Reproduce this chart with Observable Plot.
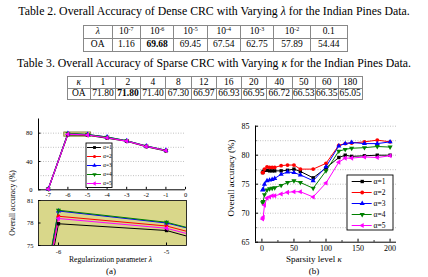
<!DOCTYPE html>
<html><head><meta charset="utf-8">
<script src="https://cdn.jsdelivr.net/npm/d3@7"></script>
<script src="https://cdn.jsdelivr.net/npm/@observablehq/plot@0.6"></script>
<style>
html,body{margin:0;padding:0;background:#fff;}
#root{position:relative;width:428px;height:277px;overflow:hidden;font-family:"Liberation Serif","Times New Roman",serif;color:#000;background:#fff;}
.box{position:absolute;}
.cap{position:absolute;left:0;width:428px;text-align:center;font-size:11.8px;white-space:nowrap;line-height:1;}
table.t{position:absolute;border-collapse:collapse;table-layout:fixed;}
table.t td{border:1px solid #888;text-align:center;padding:0;font-size:9.5px;line-height:1;white-space:nowrap;overflow:visible;}
table.t sup{font-size:6px;vertical-align:top;position:relative;top:-1px;}
.lbl{position:absolute;white-space:nowrap;line-height:1;}
</style></head><body><div id="root"></div>
<script>
// ---- table data ----
const table2Head = ["10^-7","10^-6","10^-5","10^-4","10^-3","10^-2","0.1"];
const table2OA = [1.16, 69.68, 69.45, 67.54, 62.75, 57.89, 54.44];
const table2Bold = 1;
const table3Kappa = [1, 2, 4, 8, 12, 16, 20, 40, 50, 60, 180];
const table3OA = ["71.80","71.80","71.40","67.30","66.97","66.93","66.95","66.72","66.53","66.35","65.05"];
const table3Bold = 1;

// ---- chart series ----
const names = ["α=1", "α=2", "α=3", "α=4", "α=5"];
const colors = ["#000000", "#ff0000", "#0000ff", "#008000", "#ff00ff"];
const symbols = ["square", "circle", "triangle", "triangle", "triangle"];
const rotations = [0, 0, 0, 180, -90];

// (a) regularization parameter (log10 lambda)
const lambdaExp = [-7, -6, -5, -4, -3, -2, -1];
const oaLambda1 = [1.16, 77.9, 77.0, 73.0, 68.5, 61.0, 55.0];
const oaLambda2 = [1.16, 78.9, 77.6, 73.8, 69.0, 61.5, 55.5];
const oaLambda3 = [1.16, 79.6, 78.0, 74.5, 69.3, 61.8, 55.8];
const oaLambda4 = [1.16, 79.7, 78.1, 74.4, 69.2, 61.7, 55.7];
const oaLambda5 = [1.16, 78.6, 77.3, 73.5, 68.8, 61.3, 55.4];

// (b) sparsity level kappa
const kappa = [1, 2, 4, 8, 12, 16, 20, 30, 40, 50, 60, 80, 100, 120, 130, 140, 160, 180, 200];
const oaKappa1 = [77.0, 77.2, 77.4, 77.4, 77.3, 77.3, 77.3, 77.3, 77.4, 77.6, 77.2, 76.1, 77.8, 79.6, 80.0, 79.8, 79.9, 80.0, 80.0];
const oaKappa2 = [77.0, 77.0, 77.6, 78.0, 77.9, 77.9, 77.9, 78.2, 78.3, 78.3, 77.6, 77.6, 78.6, 81.7, 82.0, 82.1, 82.3, 82.6, 82.3];
const oaKappa3 = [74.0, 74.1, 75.0, 75.6, 75.7, 75.8, 76.0, 76.7, 77.1, 77.0, 76.6, 75.6, 78.0, 81.6, 82.0, 82.2, 82.0, 82.0, 82.3];
const oaKappa4 = [71.8, 72.0, 73.2, 74.0, 74.2, 74.3, 74.4, 74.8, 75.3, 75.6, 75.3, 74.3, 77.3, 80.7, 81.0, 81.2, 81.3, 81.5, 81.4];
const oaKappa5 = [69.0, 69.3, 71.4, 72.6, 72.8, 73.0, 73.0, 73.3, 73.6, 73.7, 73.7, 72.8, 75.2, 78.8, 79.5, 79.5, 79.7, 79.6, 79.9];

// ---- axes ----
const aXDomain = [-7.5, 0], aYDomain = [0, 100];
const aXTicks = [-7, -6, -5, -4, -3, -2, -1, 0], aYTicks = [0, 40, 80], aGrid = [20, 40, 60, 80];
const insetX = [-6.185, -4.815], insetY = [75, 81];
const insetXTicks = [-6, -5], insetYTicks = [75, 78, 81];
const bXDomain = [-10, 210], bYDomain = [65, 85];
const bXTicks = [0, 50, 100, 150, 200], bXMinor = [25, 75, 125, 175];
const bYTicks = [65, 70, 75, 80, 85], bYMinor = [67.5, 72.5, 77.5, 82.5];
const bGrid = [67.5, 70, 72.5, 75, 77.5, 80, 82.5, 85];

const insetFill = "#d9d78a";
const root = document.getElementById("root");

function place(el, left, top) {
  const d = document.createElement("div");
  d.className = "box"; d.style.left = left + "px"; d.style.top = top + "px";
  d.appendChild(el); root.appendChild(d); return d;
}
function label(text, cx, cy, size, rot) {
  const d = document.createElement("div");
  d.className = "lbl"; d.innerHTML = text; d.style.fontSize = size + "px";
  d.style.left = cx + "px"; d.style.top = cy + "px";
  d.style.transform = "translate(-50%,-50%)" + (rot ? " rotate(" + rot + "deg)" : "");
  root.appendChild(d);
}
function caption(text, top) {
  const d = document.createElement("div");
  d.className = "cap"; d.innerHTML = text; d.style.top = top + "px"; root.appendChild(d);
}
function table(headSym, heads, vals, bold, widths, left, top, rowH) {
  const t = document.createElement("table");
  t.className = "t"; t.style.left = left + "px"; t.style.top = top + "px";
  t.style.width = widths.reduce((a, b) => a + b, 0) + "px";
  const cg = document.createElement("colgroup");
  widths.forEach(w => { const c = document.createElement("col"); c.style.width = w + "px"; cg.appendChild(c); });
  t.appendChild(cg);
  const fmtHead = h => String(h).replace(/\^(-?\d+)/, "<sup>$1</sup>");
  const r1 = document.createElement("tr"), r2 = document.createElement("tr");
  r1.innerHTML = `<td style="height:${rowH}px"><i>${headSym}</i></td>` + heads.map(h => `<td>${fmtHead(h)}</td>`).join("");
  r2.innerHTML = `<td style="height:${rowH}px">OA</td>` + vals.map((v, i) => `<td>${i === bold ? "<b>" + v + "</b>" : v}</td>`).join("");
  t.appendChild(r1); t.appendChild(r2); root.appendChild(t);
}

caption("Table 2. Overall Accuracy of Dense CRC with Varying <i>λ</i> for the Indian Pines Data.", 6);
table("λ", table2Head, table2OA.map(v => v.toFixed(2)), table2Bold, [29, 28.3, 33.3, 33.3, 33.3, 33.3, 36.7, 36.7], 82.7, 25, 12);
caption("Table 3. Overall Accuracy of Sparse CRC with Varying <i>κ</i> for the Indian Pines Data.", 57.5);
table("κ", table3Kappa, table3OA, table3Bold, [23.3, 25, 25, 25, 25.7, 25.3, 24.7, 25.3, 25.7, 23.3, 22.7, 24], 66.7, 76, 10.5);

function tidy(xs, series) {
  return series.flatMap((vals, i) => vals.map((v, j) => ({x: xs[j], y: v, s: names[i], rot: rotations[i]})));
}
const dataA = tidy(lambdaExp, [oaLambda1, oaLambda2, oaLambda3, oaLambda4, oaLambda5]);
const dataB = tidy(kappa, [oaKappa1, oaKappa2, oaKappa3, oaKappa4, oaKappa5]);
const fmt = d => d < 0 ? "-" + (-d) : String(d);
const color = {domain: names, range: colors};
const symbol = {domain: names, range: symbols};
const styleA = {fontFamily: "'Liberation Serif', serif", fontSize: "6.5px", background: "transparent", overflow: "visible"};
const styleB = {fontFamily: "'Liberation Serif', serif", fontSize: "8px", background: "transparent", overflow: "visible"};

// (a) main panel
const plotA = Plot.plot({
  width: 200, height: 90, marginLeft: 38, marginRight: 15, marginTop: 8.5, marginBottom: 10.7,
  style: styleA, x: {domain: aXDomain}, y: {domain: aYDomain}, color, symbol,
  marks: [
    Plot.gridY(aGrid, {stroke: "#999", strokeOpacity: 1, strokeDasharray: "1,1.5", strokeWidth: 0.6}),
    Plot.rect([0], {x1: () => insetX[0], x2: () => insetX[1], y1: () => insetY[0], y2: () => insetY[1], fill: insetFill, stroke: "#77772e", strokeWidth: 0.8}),
    Plot.ruleX([aXDomain[0]]), Plot.ruleY([aYDomain[0]]),
    Plot.axisX(aXTicks, {tickSize: -2.5, tickPadding: 5.5, tickFormat: fmt, label: null}),
    Plot.axisY(aYTicks, {tickSize: -2.5, tickPadding: 8.5, label: null}),
    Plot.line(dataA, {x: "x", y: "y", z: "s", stroke: "s", strokeWidth: 1.1}),
    Plot.dot(dataA, {x: "x", y: "y", fill: "s", symbol: "s", rotate: "rot", r: 1.9})
  ]
});
place(plotA, 0, 110);

// (a) zoomed inset
const plotInset = Plot.plot({
  width: 200, height: 60, marginLeft: 38, marginRight: 14, marginTop: 5, marginBottom: 10,
  style: styleA, x: {domain: insetX}, y: {domain: insetY}, color, symbol,
  marks: [
    Plot.frame({fill: insetFill, stroke: "none"}),
    Plot.line(dataA, {x: "x", y: "y", z: "s", stroke: "s", strokeWidth: 1, clip: true}),
    Plot.dot(dataA, {x: "x", y: "y", fill: "s", symbol: "s", rotate: "rot", r: 1.9, clip: true}),
    Plot.frame({stroke: "black", strokeWidth: 0.8}),
    Plot.axisX(insetXTicks, {tickSize: -2.5, tickPadding: 6.5, tickFormat: fmt, label: null}),
    Plot.axisY(insetYTicks, {tickSize: -2.5, tickPadding: 7.5, label: null})
  ]
});
place(plotInset, 0, 195);

// (b)
const plotB = Plot.plot({
  width: 213, height: 145, marginLeft: 40, marginRight: 32, marginTop: 10.7, marginBottom: 18.3,
  style: styleB, x: {domain: bXDomain}, y: {domain: bYDomain}, color, symbol,
  marks: [
    Plot.gridY(bGrid, {stroke: "#999", strokeOpacity: 1, strokeDasharray: "1,1.5", strokeWidth: 0.6}),
    Plot.ruleX([bXDomain[0]]), Plot.ruleY([bYDomain[0]]),
    Plot.axisX(bXMinor, {tickSize: -1.5, tickFormat: () => "", label: null}),
    Plot.axisX(bXTicks, {tickSize: -3, tickPadding: 6.5, label: null}),
    Plot.axisY(bYMinor, {tickSize: -1.5, tickFormat: () => "", label: null}),
    Plot.axisY(bYTicks, {tickSize: -3, tickPadding: 9, label: null}),
    Plot.line(dataB, {x: "x", y: "y", z: "s", stroke: "s", strokeWidth: 1}),
    Plot.dot(dataB, {x: "x", y: "y", fill: "s", symbol: "s", rotate: "rot", r: 1.9})
  ]
});
place(plotB, 215, 115);

// legends
function legend(w, h, rowRange, lx, mx, tx, fs, r) {
  return Plot.plot({
    width: w, height: h, margin: 0.5,
    style: {fontFamily: "'Liberation Serif', serif", fontSize: fs + "px", background: "transparent", overflow: "visible"},
    x: {domain: [0, w], range: [0, w], axis: null},
    y: {type: "point", domain: names, range: rowRange, padding: 0, axis: null},
    color, symbol,
    marks: [
      Plot.frame({fill: "white", stroke: "black", strokeWidth: 0.9}),
      Plot.ruleY(names, {y: d => d, x1: () => lx[0], x2: () => lx[1], stroke: d => d, strokeWidth: 1}),
      Plot.dot(names, {x: () => mx, y: d => d, fill: d => d, symbol: d => d, rotate: (d, i) => rotations[i], r}),
      Plot.text(names, {x: () => tx, y: d => d, text: d => d, textAnchor: "start", fill: "black"})
    ]
  });
}
place(legend(27, 45.5, [5, 41], [2, 16], 9, 17.5, 5.5, 1.6), 85, 141.5);
place(legend(47, 56, [6.7, 51.5], [5.7, 25.7], 15.7, 27, 7.5, 1.9), 346, 174);

// axis titles and panel tags
label("Overall accuracy (%)", 13, 203, 7.7, -90);
label("Regularization parameter <i>λ</i>", 110.5, 260, 7.7);
label("(a)", 111, 271, 9);
label("Overall accuracy (%)", 231, 178, 9, -90);
label("Sparsity level <i>κ</i>", 314, 259, 9);
label("(b)", 314, 271, 9);
</script></body></html>
